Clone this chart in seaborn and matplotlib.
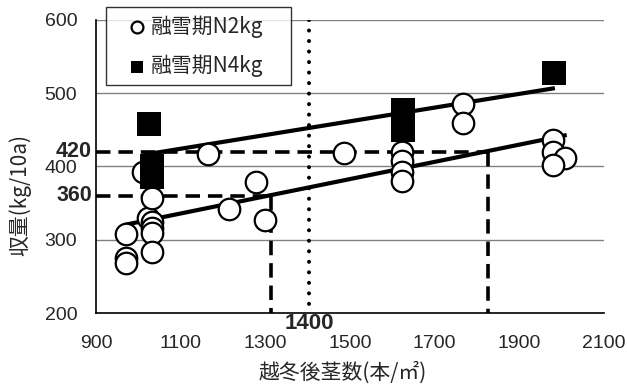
import numpy as np
import pandas as pd
import matplotlib
matplotlib.use("Agg")
import matplotlib.pyplot as plt
import seaborn as sns

# ---- data ----
n2_x = [971, 971, 971, 1011, 1023, 1032, 1032, 1032, 1032, 1032,
        1165, 1214, 1278, 1299, 1486,
        1624, 1624, 1624, 1624, 1766, 1766,
        1980, 1980, 2007, 1980]
n2_y = [308, 275, 268, 392, 330, 357, 324, 316, 309, 283,
        417, 342, 379, 327, 419,
        420, 407, 393, 380, 485, 460,
        436, 420, 411, 402]

n4_x = [1025, 1033, 1033, 1626, 1626, 1982]
n4_y = [458, 400, 386, 477, 450, 527]

# fitted regression lines (end points)
fit_n2_x = [965, 2012]
fit_n2_y = [320, 443]
fit_n4_x = [1012, 1984]
fit_n4_y = [416, 507]

# guide lines
guide_y = [420, 360]
guide_x_end = [1826, 1313]
guide_vx = 1403
guide_vlabel = "1400"

x_ticks = [900, 1100, 1300, 1500, 1700, 1900, 2100]
y_ticks = [200, 300, 400, 500, 600]

label_n2 = "融雪期N2kg"
label_n4 = "融雪期N4kg"
x_label = "越冬後茎数(本/㎡)"
y_label = "収量(kg/10a)"

# ---- plotting ----
sns.set_theme(style="white")
plt.rcParams['font.family'] = ['Noto Sans CJK JP', 'DejaVu Sans']
num_font = ['Liberation Sans', 'DejaVu Sans']

fig = plt.figure(figsize=(6.27, 3.87), dpi=100)
ax = fig.add_axes([96/627, 1-313/387, (604-96)/627, (313-20)/387])

ax.set_xlim(900, 2100)
ax.set_ylim(200, 600)

# grid
for yv in y_ticks[1:]:
    ax.axhline(yv, color="#808080", lw=1.0, zorder=0)

# guide lines
dash = (0, (4, 2.2))
for gy, gx in zip(guide_y, guide_x_end):
    ax.plot([900, gx], [gy, gy], color="black", lw=2.6, ls=dash, zorder=2)
    ax.plot([gx, gx], [gy, 200], color="black", lw=2.6, ls=dash, zorder=2)
ax.plot([guide_vx, guide_vx], [600, 200], color="black", lw=2.9, ls=(0, (0.01, 2.6)),
        dash_capstyle="round", zorder=2)

# regression lines
ax.plot(fit_n2_x, fit_n2_y, color="black", lw=3.0, zorder=3, solid_capstyle="butt")
ax.plot(fit_n4_x, fit_n4_y, color="black", lw=3.0, zorder=3, solid_capstyle="butt")

df2 = pd.DataFrame({"x": n2_x, "y": n2_y})
df4 = pd.DataFrame({"x": n4_x, "y": n4_y})
sns.scatterplot(data=df2, x="x", y="y", ax=ax, marker="o", s=240, facecolor="white",
                edgecolor="black", linewidth=1.6, zorder=4, label=label_n2)
sns.scatterplot(data=df4, x="x", y="y", ax=ax, marker="s", s=280, color="black",
                edgecolor="black", linewidth=0, zorder=5, label=label_n4)

# axes styling
for s in ["top", "right"]:
    ax.spines[s].set_visible(False)
for s in ["left", "bottom"]:
    ax.spines[s].set_color("black")
    ax.spines[s].set_linewidth(1.2)
ax.set_xticks(x_ticks)
ax.set_yticks(y_ticks)
ax.tick_params(axis="x", direction="in", length=5.5, width=1, labelsize=14, pad=15.5, color="#555555")
ax.tick_params(axis="y", direction="in", length=0, labelsize=14, pad=13.5)
for lab in ax.get_xticklabels() + ax.get_yticklabels():
    lab.set_family(num_font)
ax.set_xlabel("")
ax.set_ylabel("")
fig.text(343/627, 1-373/387, x_label, fontsize=15, ha="center", va="center")
fig.text(20/627, 1-195/387, y_label, rotation=90, fontsize=15, ha="center", va="center")

# bold guide labels
for gy in guide_y:
    ax.text(-0.008, (gy-200)/400, str(gy), transform=ax.transAxes, ha="right", va="center",
            fontsize=15.5, fontweight="bold", family=num_font)
ax.text(guide_vx, 200, guide_vlabel, ha="center", va="top", fontsize=16, fontweight="bold",
        family=num_font)

leg = ax.legend(loc="upper left", bbox_to_anchor=(10/508, 0.5, 185/508, 1.044-0.5), mode="expand",
                borderaxespad=0, frameon=True, fancybox=False,
                edgecolor="black", fontsize=15, handletextpad=-0.45, borderpad=0.4,
                labelspacing=0.8, markerscale=0.55, handlelength=2.2)
leg.get_frame().set_linewidth(1.0)
leg.set_zorder(10)

fig.savefig("out.png", dpi=100)
